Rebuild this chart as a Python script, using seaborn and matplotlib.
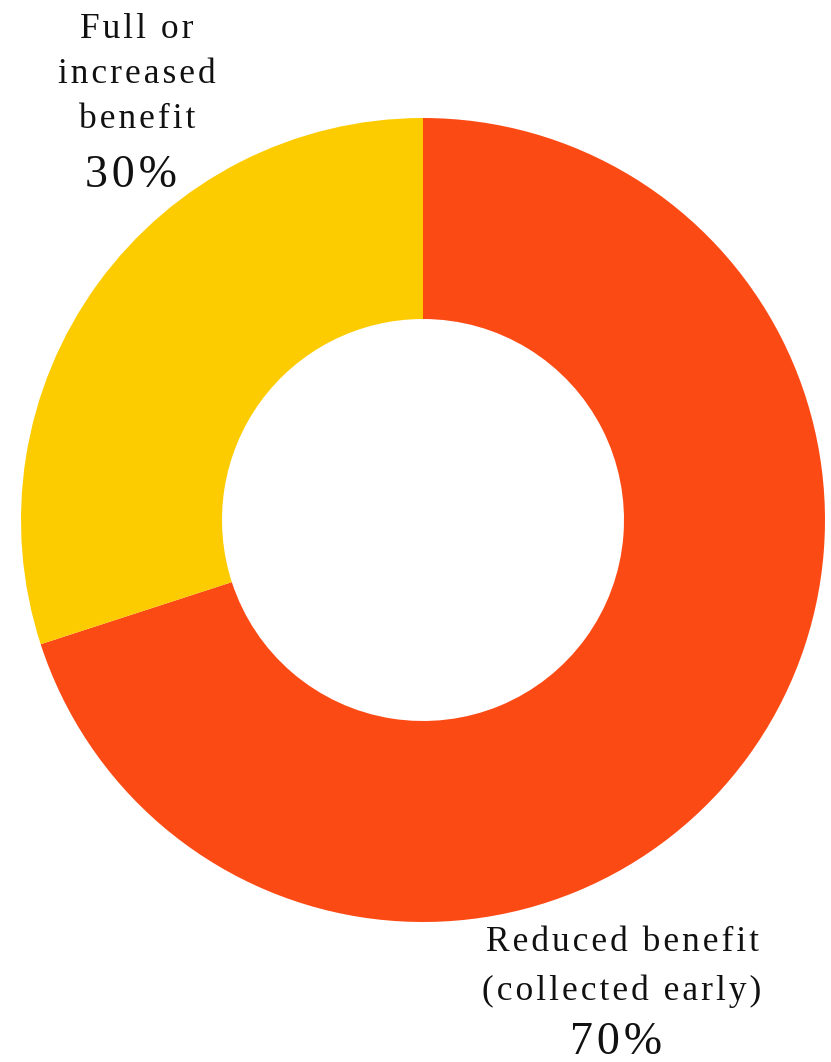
import matplotlib
matplotlib.use("Agg")
import matplotlib.pyplot as plt
import seaborn as sns

# Share of beneficiaries by claiming outcome
categories = ["Reduced benefit\n(collected early)", "Full or\nincreased\nbenefit"]
shares = [70, 30]
share_labels = ["70%", "30%"]
colors = ["#FC4A15", "#FDCC00"]

sns.set_theme(style="white")
plt.rcParams["font.family"] = ["Liberation Serif", "DejaVu Serif"]

W, H = 831, 1062
fig = plt.figure(figsize=(W / 100, H / 100), dpi=100)
ax = fig.add_axes([0, 0, 1, 1])

cx, cy, R = 423, H - 520, 402
ax.pie(shares, colors=colors, startangle=90, counterclock=False,
       center=(cx, cy), radius=R,
       wedgeprops=dict(width=201, linewidth=0))

ax.set_xlim(0, W)
ax.set_ylim(0, H)
ax.set_aspect("auto")
ax.axis("off")


def tracked(s):
    # widen letter spacing with hair spaces between glyphs
    out = []
    for line in s.split("\n"):
        out.append("\u200a".join(line))
    return "\n".join(out)


# bottom-right label (reduced benefit)
ax.text(622, H - 1000, tracked(categories[0]), ha="center", va="baseline",
        fontsize=25.5, linespacing=1.62, color="#111111")
ax.text(616, H - 1054, tracked(share_labels[0]), ha="center", va="baseline",
        fontsize=33, color="#111111")

# top-left label (full or increased benefit)
ax.text(137, H - 128, tracked(categories[1]), ha="center", va="baseline",
        fontsize=25.5, linespacing=1.48, color="#111111")
ax.text(131, H - 187, tracked(share_labels[1]), ha="center", va="baseline",
        fontsize=33, color="#111111")

fig.savefig("out.png", dpi=100, facecolor="white")
